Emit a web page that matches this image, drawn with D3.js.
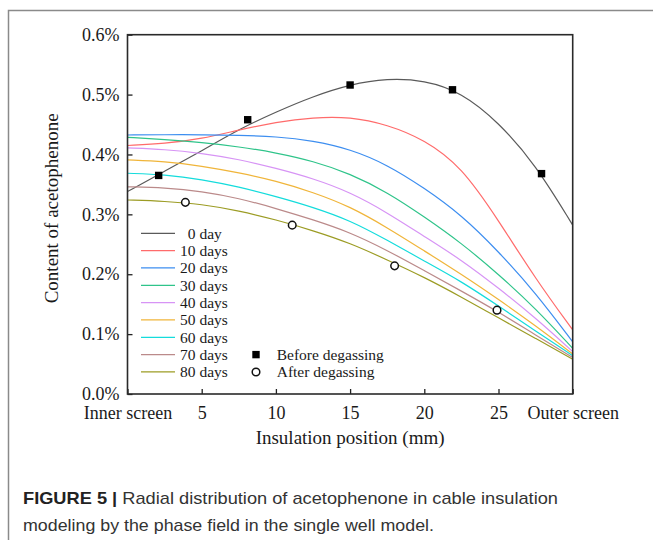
<!DOCTYPE html>
<html>
<head>
<meta charset="utf-8">
<script src="https://cdn.jsdelivr.net/npm/d3@7"></script>
<style>
  body { margin: 0; background: #fff; }
  text { font-family: "Liberation Serif", "Times New Roman", serif; fill: #1a1a1a; }
  .caption { font-family: "Liberation Sans", Arial, sans-serif; fill: #333; }
</style>
</head>
<body>
<div id="chart"></div>
<script>
// insulation position (mm) where the curves were read
var positions = [0, 2.5, 5, 7.5, 10, 12.5, 15, 17.5, 20, 22.5, 25, 27.5, 30];

// acetophenone content (%) per degassing time
var day0  = [0.338, 0.372, 0.406, 0.442, 0.471, 0.497, 0.517, 0.527, 0.524, 0.504, 0.454, 0.383, 0.282];
var day10 = [0.415, 0.418, 0.426, 0.441, 0.454, 0.462, 0.463, 0.450, 0.425, 0.380, 0.290, 0.192, 0.107];
var day20 = [0.4325, 0.433, 0.433, 0.432, 0.430, 0.423, 0.409, 0.383, 0.344, 0.299, 0.238, 0.169, 0.087];
var day30 = [0.4287, 0.4248, 0.420, 0.413, 0.403, 0.389, 0.368, 0.337, 0.296, 0.252, 0.200, 0.143, 0.0763];
var day40 = [0.411, 0.4086, 0.402, 0.392, 0.377, 0.360, 0.337, 0.303, 0.263, 0.224, 0.177, 0.127, 0.0707];
var day50 = [0.391, 0.3886, 0.3808, 0.3696, 0.356, 0.337, 0.313, 0.278, 0.239, 0.200, 0.158, 0.114, 0.0668];
var day60 = [0.3686, 0.3663, 0.3585, 0.346, 0.330, 0.312, 0.290, 0.257, 0.222, 0.188, 0.147, 0.105, 0.064];
var day70 = [0.346, 0.3445, 0.3385, 0.327, 0.310, 0.291, 0.270, 0.240, 0.206, 0.172, 0.137, 0.0985, 0.061];
var day80 = [0.324, 0.322, 0.317, 0.306, 0.291, 0.273, 0.252, 0.224, 0.195, 0.162, 0.127, 0.093, 0.058];

var seriesNames = ["0 day", "10 days", "20 days", "30 days", "40 days", "50 days", "60 days", "70 days", "80 days"];
var seriesValues = [day0, day10, day20, day30, day40, day50, day60, day70, day80];

// measured points
var beforeX = [2.1, 8.1, 15.0, 21.9, 27.9];
var beforeY = [0.365, 0.458, 0.516, 0.508, 0.368];
var afterX = [3.9, 11.1, 18.0, 24.9];
var afterY = [0.320, 0.282, 0.214, 0.140];

var xTicks = [0, 5, 10, 15, 20, 25, 30];
var xTickLabels = ["Inner screen", "5", "10", "15", "20", "25", "Outer screen"];
var yTicks = [0, 0.1, 0.2, 0.3, 0.4, 0.5, 0.6];

var colors = ["#5a5a5a", "#ff6b6b", "#3d8ef0", "#2fc48a", "#d794f5", "#f0b53a", "#14dcdc", "#bb8a8a", "#9c9c24"];

var svgWidth = 653;
var svgHeight = 540;
var margin = { top: 34.7, right: 80.3, bottom: 146, left: 127.5 };
var width = svgWidth - margin.left - margin.right;
var height = svgHeight - margin.top - margin.bottom;

var svg = d3.select("#chart").append("svg")
  .attr("width", svgWidth)
  .attr("height", svgHeight);

// figure border (top and left)
svg.append("path")
  .attr("d", "M8.5,540 L8.5,10.5 L653,10.5")
  .attr("fill", "none")
  .attr("stroke", "#8a8a8a")
  .attr("stroke-width", 1.5);

var chartGroup = svg.append("g")
  .attr("transform", `translate(${margin.left}, ${margin.top})`);

var xScale = d3.scaleLinear().domain([0, 30]).range([0, width]);
var yScale = d3.scaleLinear().domain([0, 0.6]).range([height, 0]);

// axes with inward ticks
var bottomAxis = d3.axisBottom(xScale)
  .tickValues(xTicks)
  .tickFormat((d, i) => xTickLabels[i])
  .tickSizeInner(-5)
  .tickSizeOuter(0)
  .tickPadding(12);

var leftAxis = d3.axisLeft(yScale)
  .tickValues(yTicks)
  .tickFormat(d => d3.format(".1f")(d) + "%")
  .tickSizeInner(-5)
  .tickSizeOuter(0)
  .tickPadding(8);

var xAxis = chartGroup.append("g")
  .attr("transform", `translate(0, ${height})`)
  .call(bottomAxis);
var yAxis = chartGroup.append("g").call(leftAxis);

[xAxis, yAxis].forEach(function(ax) {
  ax.select(".domain").remove();
  ax.selectAll("line").attr("stroke", "#222").attr("stroke-width", 1.3);
  ax.selectAll("text").attr("font-size", 18).attr("fill", "#1a1a1a")
    .style("font-family", "'Liberation Serif', 'Times New Roman', serif");
});

// curves
var line = d3.line()
  .x((d, i) => xScale(positions[i]))
  .y(d => yScale(d))
  .curve(d3.curveBasis);

chartGroup.selectAll(".series")
  .data(seriesValues)
  .enter()
  .append("path")
  .attr("class", "series")
  .attr("d", d => line(d))
  .attr("fill", "none")
  .attr("stroke", (d, i) => colors[i])
  .attr("stroke-width", 1.2);

// plot frame
chartGroup.append("rect")
  .attr("x", 0).attr("y", 0)
  .attr("width", width).attr("height", height)
  .attr("fill", "none")
  .attr("stroke", "#2a2a2a")
  .attr("stroke-width", 1.6);

// measured points
chartGroup.selectAll(".before")
  .data(beforeX)
  .enter()
  .append("rect")
  .attr("x", (d) => xScale(d) - 3.7)
  .attr("y", (d, i) => yScale(beforeY[i]) - 3.7)
  .attr("width", 7.4)
  .attr("height", 7.4)
  .attr("fill", "#000");

chartGroup.selectAll(".after")
  .data(afterX)
  .enter()
  .append("circle")
  .attr("cx", d => xScale(d))
  .attr("cy", (d, i) => yScale(afterY[i]))
  .attr("r", 3.8)
  .attr("fill", "#fff")
  .attr("stroke", "#111")
  .attr("stroke-width", 1.5);

// legend
var legendX = 141 - margin.left;
var legendTop = 233.3 - margin.top;
var legendStep = 17.33;

var legend = chartGroup.selectAll(".legend")
  .data(seriesNames)
  .enter()
  .append("g")
  .attr("transform", (d, i) => `translate(${legendX}, ${legendTop + i * legendStep})`);

legend.append("line")
  .attr("x1", 0).attr("x2", 34)
  .attr("y1", 0).attr("y2", 0)
  .attr("stroke", (d, i) => colors[i])
  .attr("stroke-width", 1.3);

legend.append("text")
  .attr("x", 39)
  .attr("dx", d => d.length < 6 ? "0.5em" : 0)
  .attr("dy", "0.35em")
  .attr("font-size", 15.5)
  .text(d => d);

var markerX = 256 - margin.left;
chartGroup.append("rect")
  .attr("x", markerX - 3.7)
  .attr("y", legendTop + 7 * legendStep - 3.7)
  .attr("width", 7.4).attr("height", 7.4)
  .attr("fill", "#000");
chartGroup.append("text")
  .attr("x", markerX + 20.7)
  .attr("y", legendTop + 7 * legendStep)
  .attr("dy", "0.35em")
  .attr("font-size", 15.5)
  .text("Before degassing");

chartGroup.append("circle")
  .attr("cx", markerX)
  .attr("cy", legendTop + 8 * legendStep)
  .attr("r", 3.8)
  .attr("fill", "#fff")
  .attr("stroke", "#111")
  .attr("stroke-width", 1.5);
chartGroup.append("text")
  .attr("x", markerX + 20.7)
  .attr("y", legendTop + 8 * legendStep)
  .attr("dy", "0.35em")
  .attr("font-size", 15.5)
  .text("After degassing");

// axis titles
chartGroup.append("text")
  .attr("x", width / 2)
  .attr("y", height + 50)
  .attr("text-anchor", "middle")
  .attr("font-size", 19)
  .text("Insulation position (mm)");

chartGroup.append("text")
  .attr("transform", "rotate(-90)")
  .attr("x", -height / 2 + 6)
  .attr("y", 58 - margin.left)
  .attr("text-anchor", "middle")
  .attr("font-size", 19)
  .text("Content of acetophenone");

// caption
var cap1 = svg.append("text")
  .attr("class", "caption")
  .attr("x", 23)
  .attr("y", 504)
  .attr("font-size", 17)
  .attr("textLength", 535)
  .attr("lengthAdjust", "spacingAndGlyphs");
cap1.append("tspan").attr("font-weight", "bold").attr("fill", "#222").text("FIGURE 5 | ");
cap1.append("tspan").text("Radial distribution of acetophenone in cable insulation");

svg.append("text")
  .attr("class", "caption")
  .attr("x", 23)
  .attr("y", 531)
  .attr("font-size", 17)
  .attr("textLength", 411)
  .attr("lengthAdjust", "spacingAndGlyphs")
  .text("modeling by the phase field in the single well model.");
</script>
</body>
</html>
